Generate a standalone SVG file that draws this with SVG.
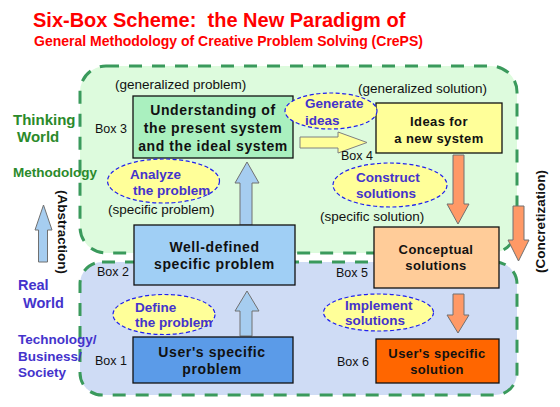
<svg xmlns="http://www.w3.org/2000/svg" width="560" height="407" viewBox="0 0 560 407">
<style>
text{font-family:"Liberation Sans",Arial,sans-serif}
.title{font-weight:bold;fill:#ff0000;white-space:pre}
.region{stroke:#3a9a5c;stroke-width:3;stroke-dasharray:13 10}
.box{stroke:#111;stroke-width:1.3}
.bt{font-weight:bold;font-size:14px;fill:#111;text-anchor:middle;letter-spacing:0.6px}
.bs{font-weight:bold;font-size:13px;fill:#111;text-anchor:middle;letter-spacing:0.4px}
.lbl{font-size:13.5px;fill:#111}
.bl{font-size:12.5px;fill:#111}
.ell{fill:#ffff99;stroke:#2020ee;stroke-width:1.2;stroke-dasharray:4 2.5}
.et{font-weight:bold;font-size:13.5px;fill:#4433cc}
.gw{font-weight:bold;fill:#2b8a2b}
.rw{font-weight:bold;fill:#4433cc}
.ab{fill:#a6cdf0;stroke:#707070;stroke-width:1}
.ao{fill:#ff9966;stroke:#707070;stroke-width:1}
.ay{fill:#ffff99;stroke:#808080;stroke-width:1}
.vt{font-weight:bold;font-size:13.5px;fill:#111;text-anchor:middle}
</style>
<rect width="560" height="407" fill="#ffffff"/>
<text class="title" x="33" y="27" font-size="20" xml:space="preserve">Six-Box Scheme:  the New Paradigm of</text>
<text class="title" x="34" y="46" font-size="14">General Methodology of Creative Problem Solving (CrePS)</text>

<g id="thinking-world">
<rect class="region" x="80" y="66" width="437" height="187" rx="26" fill="#ddfbdd"/>
</g>
<g id="real-world">
<rect class="region" x="80" y="262" width="437" height="133" rx="22" fill="#cfdcf5"/>
</g>

<g id="side-labels">
<text class="gw" x="13" y="124.5" font-size="15">Thinking</text>
<text class="gw" x="17" y="142" font-size="15">World</text>
<text class="gw" x="13" y="177.3" font-size="13.5">Methodology</text>
<text class="rw" x="18" y="289.5" font-size="14.5">Real</text>
<text class="rw" x="23" y="308" font-size="14.5">World</text>
<text class="rw" x="18" y="344" font-size="13.5">Technology/</text>
<text class="rw" x="18" y="360.5" font-size="13.5">Business/</text>
<text class="rw" x="18" y="377" font-size="13.5">Society</text>
<text class="vt" transform="translate(58,232) rotate(90)">(Abstraction)</text>
<text class="vt" transform="translate(545,221.5) rotate(-90)">(Concretization)</text>
</g>

<g id="connectors">
<polygon class="ab" points="38.5,262 38.5,230 35,230 43.5,205 52,230 47.5,230 47.5,262"/>
<polygon class="ao" points="513,206 524,206 524,240 529,240 518.5,261 508,240 513,240"/>
<polygon class="ab" points="240,225 240,183 235,183 247,162 259,183 252,183 252,225"/>
<polygon class="ab" points="240,336 240,311 235,311 247,291 259,311 252,311 252,336"/>
<polygon class="ay" points="300,137 338,137 338,132 367,142.5 338,153 338,148 300,148"/>
<polygon class="ao" points="453,155 464,155 464,204 469,204 458,224 447,204 453,204"/>
<polygon class="ao" points="453,294 464,294 464,315 469,315 458,333 447,315 453,315"/>
</g>

<g id="region-labels">
<text class="lbl" x="115" y="88.5">(generalized problem)</text>
<text class="lbl" x="108" y="213.5">(specific problem)</text>
<text class="lbl" x="358" y="93">(generalized solution)</text>
<text class="lbl" x="320" y="221">(specific solution)</text>
</g>

<g id="box3">
<rect class="box" x="133" y="96" width="160" height="62" fill="#aaf0bf"/>
<text class="bl" x="95" y="133.3">Box 3</text>
<text class="bt" x="213" y="115">Understanding of</text>
<text class="bt" x="213" y="132.7">the present system</text>
<text class="bt" x="213" y="150.7">and the ideal system</text>
</g>
<g id="box4">
<rect class="box" x="376" y="103" width="126" height="50" fill="#ffff99"/>
<text class="bl" x="341" y="160">Box 4</text>
<text class="bs" x="439" y="126">Ideas for</text>
<text class="bs" x="439" y="142.7">a new system</text>
</g>
<g id="box2">
<rect class="box" x="134" y="225" width="161" height="60" fill="#a0cff5"/>
<text class="bl" x="97" y="276">Box 2</text>
<text class="bt" x="214.5" y="251.7">Well-defined</text>
<text class="bt" x="214.5" y="269.3">specific problem</text>
</g>
<g id="box1">
<rect class="box" x="133" y="337" width="160" height="46" fill="#5b9be8"/>
<text class="bl" x="95" y="365">Box 1</text>
<text class="bt" x="212" y="356.7">User's specific</text>
<text class="bt" x="212" y="374">problem</text>
</g>
<g id="box5">
<rect class="box" x="374" y="227" width="125" height="61" fill="#ffcc99"/>
<text class="bl" x="336" y="277.3">Box 5</text>
<text class="bs" x="436" y="254.3">Conceptual</text>
<text class="bs" x="436" y="270">solutions</text>
</g>
<g id="box6">
<rect class="box" x="376" y="339" width="123" height="44" fill="#ff6600"/>
<text class="bl" x="337" y="366">Box 6</text>
<text class="bs" x="437" y="358.3">User's specific</text>
<text class="bs" x="437" y="374.3">solution</text>
</g>

<g id="analyze">
<ellipse class="ell" cx="163.5" cy="181" rx="56" ry="22"/>
<text class="et" x="130" y="179">Analyze</text>
<text class="et" x="133" y="195.3">the problem</text>
</g>
<g id="generate">
<ellipse class="ell" cx="331" cy="111" rx="46" ry="18"/>
<text class="et" x="305" y="108.3">Generate</text>
<text class="et" x="305" y="125">ideas</text>
</g>
<g id="construct">
<ellipse class="ell" cx="390" cy="185" rx="57" ry="22"/>
<text class="et" x="356" y="181.7">Construct</text>
<text class="et" x="356" y="197.7">solutions</text>
</g>
<g id="define">
<ellipse class="ell" cx="164" cy="314.5" rx="51" ry="20"/>
<text class="et" x="135" y="311.7">Define</text>
<text class="et" x="135" y="327.3">the problem</text>
</g>
<g id="implement">
<ellipse class="ell" cx="378.5" cy="312.5" rx="55" ry="18.5"/>
<text class="et" x="345" y="310">Implement</text>
<text class="et" x="345" y="325.3">solutions</text>
</g>
</svg>
